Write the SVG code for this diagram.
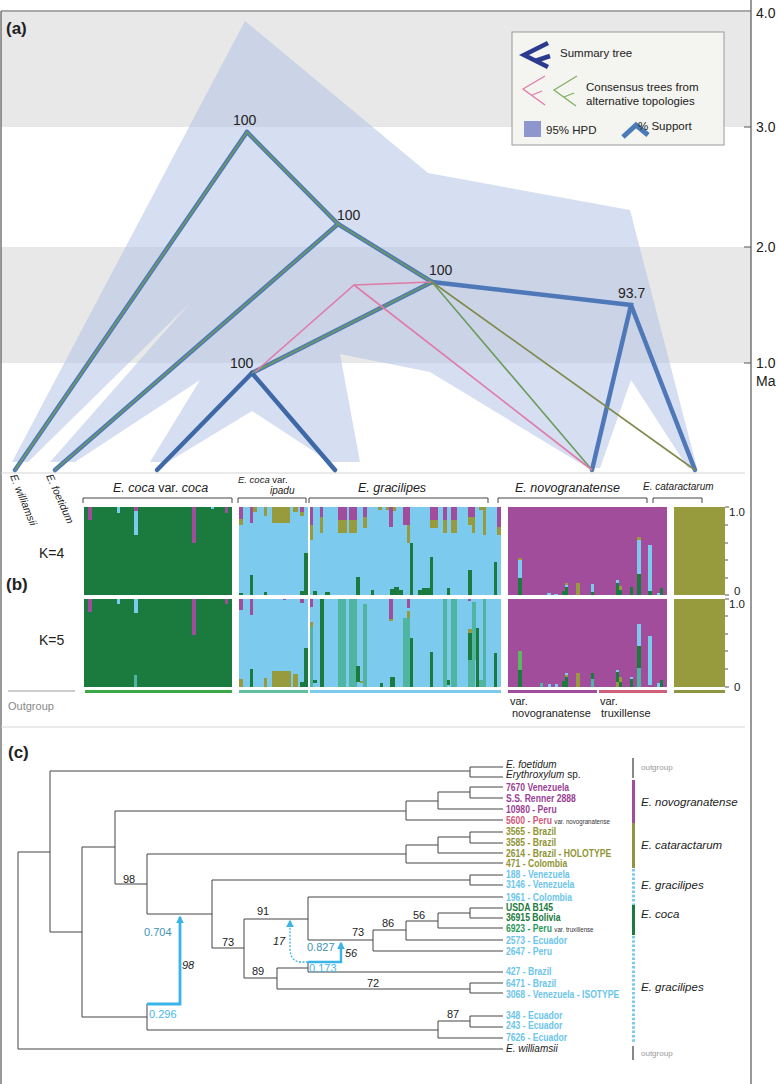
<svg xmlns="http://www.w3.org/2000/svg" width="778" height="1084" viewBox="0 0 778 1084">
<defs>
<style>
text{font-family:"Liberation Sans",Arial,sans-serif;fill:#222}
.it{font-style:italic}
.lab{font-family:"Liberation Sans",Arial,sans-serif;font-weight:bold;font-size:10.5px}
.g{fill:#1b7b3f}.c{fill:#7ccbee}.p{fill:#a14d9c}.o{fill:#989a3e}.t{fill:#4fb5a0}.lg{fill:#5cb85c}
.br{fill:none;stroke:#444;stroke-width:1}
.tr{fill:none;stroke:#444;stroke-width:1}
.sum{fill:none;stroke:#4f78b8;stroke-width:4.5;stroke-linecap:round}
.sumd{fill:none;stroke:#3e69a6;stroke-width:4.5;stroke-linecap:round}
.grn{fill:none;stroke:#6c9a5c;stroke-width:1.6}
.pnk{fill:none;stroke:#e07aa8;stroke-width:1.6}
.olv{fill:none;stroke:#7e8a4c;stroke-width:1.6}
.sup{font-size:14px}
.tk{stroke:#555;stroke-width:1}
</style>
<marker id="ah" viewBox="0 0 10 10" refX="8" refY="5" markerWidth="8" markerHeight="8" orient="auto" markerUnits="userSpaceOnUse">
<path d="M0,0 L10,5 L0,10 Z" fill="#3ab4e6"/>
</marker>
</defs>
<rect x="0" y="0" width="778" height="1084" fill="#fff"/>

<!-- panel a background -->
<g id="panel-a-bg">
<rect x="1" y="12" width="750" height="115" fill="#e8e8e8"/>
<rect x="1" y="247" width="750" height="116" fill="#e8e8e8"/>
<path d="M245,21 L428,173 L630,210 L697,468 L688,468 L631,380 L600,468 L588,468 L430,372 L340,354 L360,462 L330,462 L252,411 L168,462 L150,462 L200,380 L75,462 L50,462 L190,303 L28,462 L12,462 Z" fill="#aebde3" fill-opacity="0.5"/>
</g>

<!-- frame -->
<g id="frame" stroke="#555" stroke-width="1.2" fill="none">
<path d="M1,11 L751,11"/>
<path d="M1,11 L1,1084"/>
<path d="M751,0 L751,1084"/>
<path d="M1,473 L745,473" stroke="#d6d6d6"/>
<path d="M1,727 L745,727" stroke="#d6d6d6"/>
</g>

<!-- axis -->
<g id="axis">
<line class="tk" x1="744" y1="127" x2="751" y2="127"/>
<line class="tk" x1="744" y1="247" x2="751" y2="247"/>
<line class="tk" x1="744" y1="363" x2="751" y2="363"/>
<text x="756" y="18" font-size="14">4.0</text>
<text x="756" y="132" font-size="14">3.0</text>
<text x="756" y="252" font-size="14">2.0</text>
<text x="756" y="368" font-size="14">1.0</text>
<text x="756" y="386" font-size="14">Ma</text>
</g>

<text x="6" y="34" font-size="17" font-weight="bold">(a)</text>

<!-- panel a trees -->
<g id="connectors-a">
<path class="sum" d="M247,132 L15,470"/>
<path class="sum" d="M247,132 L338,224"/>
<path class="sum" d="M338,224 L55,470"/>
<path class="sum" d="M338,224 L432,282"/>
<path class="sum" d="M432,282 L252,373"/>
<path class="sum" d="M432,282 L631,305 L592,470"/>
<path class="sum" d="M631,305 L695,470"/>
<path class="sumd" d="M252,373 L157,470"/>
<path class="sumd" d="M252,373 L335,470"/>
<path class="grn" d="M15,470 L247,132 L338,224 L55,470"/>
<path class="grn" d="M338,224 L432,282 L252,373"/>
<path class="grn" d="M432,282 L592,470"/>
<path class="olv" d="M432,282 L695,470"/>
<path class="pnk" d="M255,372 L354,285 L431,282"/>
<path class="pnk" d="M354,285 L592,470"/>
</g>
<g id="support-a">
<text class="sup" x="233" y="125">100</text>
<text class="sup" x="337" y="220">100</text>
<text class="sup" x="429" y="275">100</text>
<text class="sup" x="230" y="368">100</text>
<text class="sup" x="618" y="298">93.7</text>
</g>
<g id="tips-a" font-size="10.5">
<text class="it" transform="translate(10,476) rotate(68)">E. williamsii</text>
<text class="it" transform="translate(46,476) rotate(66)">E. foetidum</text>
</g>

<!-- legend -->
<g id="legend">
<rect x="512" y="32" width="212" height="113" fill="#f4f4f0" stroke="#9a9a9a" stroke-width="1"/>
<path d="M548,43 L524,55 L548,67 M535,61 L550,56" fill="none" stroke="#2b3a8f" stroke-width="4.5"/>
<text x="560" y="57" font-size="11.5">Summary tree</text>
<path d="M545,76 L523,89 L545,105 M532,95 L542,91" fill="none" stroke="#e07aa8" stroke-width="1.3"/>
<path d="M577,76 L554,90 L576,106 M564,97 L574,93" fill="none" stroke="#7fb060" stroke-width="1.3"/>
<text x="586" y="91" font-size="11.5">Consensus trees from</text>
<text x="586" y="105" font-size="11.5">alternative topologies</text>
<rect x="524" y="121" width="17" height="16" fill="#8e96ce"/>
<text x="546" y="134" font-size="11.5">95% HPD</text>
<path d="M623,137 L636,125 L648,135" fill="none" stroke="#4a7ab8" stroke-width="5"/>
<text x="638" y="130" font-size="11.5">% Support</text>
</g>

<!-- panel b -->
<text x="6" y="590" font-size="17" font-weight="bold">(b)</text>
<g id="headers-b">
<text x="113" y="492" font-size="12.5"><tspan class="it">E. coca</tspan> var. <tspan class="it">coca</tspan></text>
<path class="br" d="M83,503 L83,498 L232,498 L232,503"/>
<text x="238" y="483" font-size="9.5"><tspan class="it">E. coca</tspan> var.</text>
<text x="270" y="494" font-size="10" class="it">ipadu</text>
<path class="br" d="M238,503 L238,498 L306,498 L306,503"/>
<text x="358" y="492" font-size="12.5" class="it">E. gracilipes</text>
<path class="br" d="M309,503 L309,498 L488,498 L488,503"/>
<text x="515" y="492" font-size="12.5" class="it">E. novogranatense</text>
<path class="br" d="M498,503 L498,498 L647,498 L647,503"/>
<text x="643" y="490" font-size="10" class="it">E. cataractarum</text>
<path class="br" d="M653,503 L653,498 L702,498 L702,503"/>
</g>
<text x="39" y="558" font-size="14">K=4</text>
<text x="39" y="645" font-size="14">K=5</text>

<g id="bars-k4">
<rect class="g" x="84" y="507" width="148" height="88"/>
<rect class="c" x="239" y="507" width="69" height="88"/>
<rect class="c" x="310" y="507" width="191" height="88"/>
<rect class="p" x="508" y="507" width="159" height="88"/>
<rect class="o" x="674" y="507" width="51" height="88"/>
<rect class="p" x="88" y="507" width="4" height="13"/>
<rect class="c" x="117" y="507" width="3" height="6"/>
<rect class="p" x="134" y="507" width="4" height="4"/><rect class="c" x="134" y="511" width="4" height="24"/>
<rect class="p" x="192" y="507" width="4" height="36"/>
<rect class="c" x="211" y="507" width="3" height="2"/>
<rect class="p" x="225" y="507" width="3" height="6"/>
<rect class="p" x="239" y="507" width="4" height="12"/><rect class="o" x="239" y="519" width="4" height="6"/>
<rect class="p" x="250" y="507" width="3" height="16"/>
<rect class="o" x="253" y="507" width="4" height="5"/>
<rect class="o" x="264" y="507" width="3" height="9"/>
<rect class="o" x="272" y="507" width="18" height="16"/>
<rect class="o" x="293" y="507" width="5" height="5"/>
<rect class="p" x="300" y="507" width="4" height="5"/><rect class="o" x="300" y="512" width="4" height="4"/>
<rect class="g" x="239" y="593" width="4" height="2"/>
<rect class="g" x="250" y="575" width="3" height="20"/>
<rect class="g" x="264" y="592" width="3" height="3"/>
<rect class="g" x="300" y="591" width="4" height="4"/>
<rect class="g" x="304" y="553" width="4" height="42"/>
<rect class="p" x="310" y="507" width="3" height="18"/><rect class="o" x="310" y="525" width="3" height="15"/>
<rect class="p" x="320" y="507" width="3" height="10"/><rect class="o" x="320" y="517" width="3" height="16"/>
<rect class="p" x="338" y="507" width="9" height="13"/><rect class="o" x="338" y="520" width="9" height="13"/>
<rect class="p" x="349" y="507" width="8" height="13"/><rect class="o" x="349" y="520" width="8" height="13"/>
<rect class="p" x="363" y="507" width="4" height="10"/><rect class="o" x="363" y="517" width="4" height="11"/>
<rect class="o" x="378" y="507" width="4" height="3"/>
<rect class="o" x="386" y="507" width="3" height="3"/>
<rect class="p" x="389" y="507" width="4" height="20"/><rect class="o" x="393" y="507" width="3" height="4"/>
<rect class="p" x="403" y="507" width="7" height="18"/><rect class="o" x="407" y="525" width="3" height="18"/>
<rect class="g" x="313" y="591" width="4" height="4"/>
<rect class="g" x="325" y="592" width="5" height="3"/>
<rect class="g" x="356" y="577" width="4" height="18"/>
<rect class="g" x="371" y="590" width="3" height="5"/>
<rect class="g" x="390" y="589" width="4" height="6"/><rect class="g" x="394" y="587" width="5" height="8"/><rect class="g" x="399" y="590" width="4" height="5"/>
<rect class="g" x="410" y="543" width="3" height="52"/>
<rect class="g" x="418" y="590" width="4" height="5"/><rect class="g" x="422" y="588" width="8" height="7"/>
<rect class="p" x="430" y="507" width="8" height="13"/><rect class="o" x="430" y="520" width="8" height="8"/>
<rect class="p" x="443" y="507" width="4" height="13"/><rect class="o" x="443" y="520" width="4" height="13"/>
<rect class="p" x="451" y="507" width="6" height="13"/><rect class="o" x="451" y="520" width="6" height="13"/>
<rect class="p" x="468" y="507" width="7" height="10"/><rect class="o" x="468" y="517" width="7" height="8"/><rect class="o" x="472" y="525" width="3" height="8"/>
<rect class="o" x="479" y="507" width="7" height="3"/><rect class="o" x="483" y="510" width="3" height="25"/>
<rect class="p" x="497" y="507" width="4" height="20"/><rect class="o" x="497" y="527" width="4" height="8"/>
<rect class="g" x="430" y="557" width="3" height="38"/>
<rect class="g" x="447" y="588" width="3" height="7"/>
<rect class="g" x="468" y="570" width="4" height="25"/>
<rect class="g" x="494" y="562" width="3" height="33"/>
<rect class="o" x="518" y="558" width="4" height="2"/><rect class="c" x="518" y="560" width="4" height="18"/><rect class="g" x="518" y="578" width="4" height="17"/>
<rect class="c" x="547" y="593" width="4" height="2"/><rect class="c" x="554" y="594" width="4" height="1"/>
<rect class="g" x="562" y="591" width="4" height="4"/>
<rect class="o" x="565" y="583" width="3" height="2"/><rect class="c" x="565" y="585" width="3" height="2"/><rect class="g" x="565" y="587" width="3" height="8"/>
<rect class="o" x="576" y="583" width="4" height="12"/>
<rect class="c" x="591" y="584" width="3" height="8"/><rect class="g" x="591" y="592" width="3" height="3"/>
<rect class="c" x="616" y="580" width="3" height="3"/><rect class="g" x="616" y="583" width="3" height="12"/>
<rect class="o" x="619" y="586" width="3" height="4"/><rect class="g" x="619" y="590" width="3" height="5"/>
<rect class="g" x="630" y="587" width="3" height="8"/>
<rect class="o" x="637" y="537" width="4" height="3"/><rect class="c" x="637" y="540" width="4" height="34"/><rect class="g" x="637" y="574" width="4" height="21"/>
<rect class="c" x="648" y="545" width="4" height="46"/><rect class="g" x="648" y="591" width="4" height="4"/>
<rect class="c" x="657" y="593" width="3" height="2"/><rect class="g" x="660" y="588" width="3" height="7"/>
</g>

<g id="bars-k5">
<rect class="g" x="84" y="599" width="148" height="88"/>
<rect class="c" x="239" y="599" width="69" height="88"/>
<rect class="c" x="310" y="599" width="191" height="88"/>
<rect class="p" x="508" y="599" width="159" height="88"/>
<rect class="o" x="674" y="599" width="51" height="88"/>
<rect class="p" x="88" y="599" width="4" height="13"/>
<rect class="c" x="117" y="599" width="3" height="5"/>
<rect class="c" x="134" y="599" width="4" height="14"/>
<rect class="p" x="192" y="599" width="4" height="36"/>
<rect class="p" x="225" y="599" width="3" height="5"/>
<rect class="t" x="134" y="675" width="3" height="12"/>
<rect class="p" x="239" y="599" width="4" height="11"/><rect class="p" x="250" y="599" width="3" height="16"/><rect class="p" x="283" y="599" width="3" height="1"/><rect class="p" x="300" y="599" width="4" height="4"/>
<rect class="o" x="239" y="679" width="4" height="8"/>
<rect class="g" x="250" y="669" width="3" height="18"/>
<rect class="o" x="264" y="678" width="3" height="9"/>
<rect class="o" x="272" y="671" width="19" height="16"/>
<rect class="o" x="293" y="674" width="5" height="13"/>
<rect class="g" x="300" y="682" width="4" height="5"/>
<rect class="g" x="304" y="648" width="4" height="39"/>
<rect class="p" x="310" y="599" width="3" height="8"/><rect class="o" x="310" y="622" width="3" height="5"/><rect class="t" x="310" y="627" width="3" height="60"/>
<rect class="g" x="320" y="599" width="4" height="88"/>
<rect class="t" x="338" y="599" width="8" height="88"/>
<rect class="t" x="349" y="599" width="8" height="88"/><rect class="g" x="356" y="666" width="4" height="16"/>
<rect class="t" x="363" y="604" width="4" height="83"/>
<rect class="o" x="360" y="681" width="3" height="2"/>
<rect class="p" x="389" y="599" width="4" height="20"/><rect class="o" x="389" y="619" width="4" height="2"/>
<rect class="g" x="390" y="677" width="5" height="10"/>
<rect class="p" x="407" y="599" width="3" height="9"/><rect class="o" x="407" y="611" width="3" height="7"/><rect class="t" x="403" y="618" width="7" height="69"/>
<rect class="g" x="410" y="638" width="3" height="49"/>
<rect class="g" x="313" y="680" width="4" height="3"/>
<rect class="g" x="380" y="683" width="3" height="4"/>
<rect class="g" x="430" y="652" width="3" height="35"/>
<rect class="t" x="443" y="599" width="4" height="88"/>
<rect class="t" x="451" y="599" width="6" height="88"/>
<rect class="g" x="447" y="680" width="3" height="5"/>
<rect class="t" x="472" y="602" width="4" height="58"/><rect class="p" x="468" y="599" width="3" height="2"/><rect class="o" x="468" y="629" width="4" height="4"/><rect class="g" x="468" y="633" width="4" height="27"/><rect class="t" x="468" y="660" width="7" height="27"/>
<rect class="g" x="476" y="628" width="3" height="59"/>
<rect class="t" x="479" y="680" width="7" height="7"/><rect class="t" x="483" y="599" width="3" height="88"/>
<rect class="g" x="494" y="653" width="3" height="34"/>
<rect class="lg" x="518" y="651" width="4" height="19"/><rect class="g" x="518" y="670" width="4" height="17"/>
<rect class="t" x="540" y="683" width="3" height="4"/><rect class="c" x="548" y="684" width="3" height="3"/><rect class="c" x="555" y="684" width="3" height="3"/>
<rect class="g" x="562" y="681" width="4" height="6"/>
<rect class="c" x="565" y="673" width="3" height="2"/><rect class="o" x="565" y="675" width="3" height="2"/><rect class="g" x="565" y="677" width="3" height="10"/>
<rect class="o" x="576" y="673" width="4" height="14"/>
<rect class="g" x="591" y="673" width="3" height="6"/><rect class="t" x="591" y="679" width="3" height="8"/>
<rect class="c" x="616" y="670" width="3" height="2"/><rect class="g" x="616" y="672" width="3" height="10"/><rect class="o" x="616" y="682" width="3" height="5"/>
<rect class="o" x="619" y="677" width="3" height="5"/><rect class="g" x="619" y="682" width="3" height="5"/>
<rect class="c" x="630" y="677" width="3" height="2"/><rect class="g" x="630" y="679" width="3" height="8"/>
<rect class="c" x="637" y="624" width="4" height="22"/><rect class="g" x="637" y="646" width="4" height="22"/><rect class="t" x="637" y="668" width="4" height="19"/>
<rect class="c" x="648" y="636" width="4" height="49"/>
<rect class="c" x="657" y="683" width="3" height="4"/><rect class="g" x="660" y="680" width="3" height="7"/>
</g>

<g id="scale-b">
<path class="tk" d="M725,507 L729,507 M725,525 L728,525 M725,543 L728,543 M725,560 L728,560 M725,578 L728,578 M725,595 L729,595"/>
<path class="tk" d="M725,599 L729,599 M725,616 L728,616 M725,634 L728,634 M725,651 L728,651 M725,669 L728,669 M725,687 L729,687"/>
<text x="729" y="516" font-size="11.5">1.0</text>
<text x="734" y="595" font-size="11.5">0</text>
<text x="729" y="608" font-size="11.5">1.0</text>
<text x="734" y="691" font-size="11.5">0</text>
</g>

<g id="groups-b">
<rect x="85" y="690" width="147" height="3" fill="#3aa846"/>
<rect x="239" y="690" width="69" height="3" fill="#5fbfa0"/>
<rect x="310" y="690" width="191" height="3" fill="#7ccbee"/>
<rect x="508" y="690" width="89" height="3" fill="#a14d9c"/>
<rect x="599" y="690" width="68" height="3" fill="#d0607a"/>
<rect x="674" y="690" width="51" height="3" fill="#8e9440"/>
<line x1="8" y1="691" x2="75" y2="691" stroke="#999" stroke-width="1"/>
<text x="8" y="710" font-size="11" style="fill:#888">Outgroup</text>
<text x="510" y="705" font-size="11">var.</text>
<text x="512" y="717" font-size="11">novogranatense</text>
<text x="600" y="705" font-size="11">var.</text>
<text x="601" y="717" font-size="11">truxillense</text>
</g>

<!-- panel c -->
<text x="8" y="758" font-size="17" font-weight="bold">(c)</text>
<g id="connectors-c">
<path class="tr" d="M18,852 L18,1049 L503,1049 M18,852 L50,852"/>
<path class="tr" d="M50,771 L50,932 M50,771 L470,771 M50,932 L82,932"/>
<path class="tr" d="M470,767 L470,777 M470,767 L503,767 M470,777 L503,777"/>
<path class="tr" d="M82,847 L82,1017 M82,847 L115,847 M82,1017 L147,1017"/>
<path class="tr" d="M115,811 L115,884 M115,811 L406,811 M115,884 L147,884"/>
<path class="tr" d="M406,801 L406,820 L503,820 M406,801 L438,801 M438,792 L438,809 L503,809 M438,792 L470,792 M470,787 L470,798 M470,787 L503,787 M470,798 L503,798"/>
<path class="tr" d="M147,854 L147,914 M147,854 L406,854 M147,914 L212,914"/>
<path class="tr" d="M406,845 L406,863 L503,863 M406,845 L438,845 M438,837 L438,853 L503,853 M438,837 L470,837 M470,832 L470,843 M470,832 L503,832 M470,843 L503,843"/>
<path class="tr" d="M212,880 L212,948 M212,880 L470,880 M470,875 L470,885 M470,875 L503,875 M470,885 L503,885 M212,948 L244,948"/>
<path class="tr" d="M244,919 L244,978 M244,919 L308,919 M244,978 L277,978"/>
<path class="tr" d="M308,897 L308,940 M308,897 L503,897 M308,940 L373,940"/>
<path class="tr" d="M373,930 L373,951 L503,951 M373,930 L406,930 M406,921 L406,940 L503,940 M406,921 L438,921 M438,913 L438,928 L503,928 M438,913 L470,913 M470,908 L470,918 M470,908 L503,908 M470,918 L503,918"/>
<path class="tr" d="M277,968 L277,989 M277,968 L308,968 M308,962 L308,972 L503,972 M277,989 L470,989 M470,983 L470,993 M470,983 L503,983 M470,993 L503,993"/>
<path class="tr" d="M147,1004 L147,1030 M147,1030 L438,1030 M438,1021 L438,1038 L503,1038 M438,1021 L470,1021 M470,1016 L470,1027 M470,1016 L503,1016 M470,1027 L503,1027"/>
<path d="M147,1004 L180,1004 L180,917" fill="none" stroke="#3ab4e6" stroke-width="2.8" marker-end="url(#ah)"/>
<path d="M308,962 L341,962 L341,943" fill="none" stroke="#3ab4e6" stroke-width="2.4" marker-end="url(#ah)"/>
<path d="M308,962 L300,962 Q290,961 290,948 L290,921" fill="none" stroke="#3ab4e6" stroke-width="1.3" stroke-dasharray="2 1.5" marker-end="url(#ah)"/>
</g>
<g id="support-c" font-size="11">
<text x="123" y="883">98</text>
<text x="222" y="946">73</text>
<text x="257" y="915">91</text>
<text x="352" y="936">73</text>
<text x="382" y="927">86</text>
<text x="413" y="919">56</text>
<text x="252" y="975">89</text>
<text x="367" y="987">72</text>
<text x="447" y="1018">87</text>
<text x="144" y="936" style="fill:#3d94b5">0.704</text>
<text x="182" y="969" class="it">98</text>
<text x="149" y="1018" style="fill:#45b8e8">0.296</text>
<text x="273" y="945" class="it">17</text>
<text x="307" y="951" style="fill:#3d94b5">0.827</text>
<text x="345" y="957" class="it">56</text>
<text x="309" y="972" style="fill:#45b8e8">0.173</text>
</g>
<g id="tips-c">
<text x="506" y="768" font-size="10" class="it">E. foetidum</text>
<text x="506" y="778" font-size="10"><tspan class="it">Erythroxylum</tspan> sp.</text>
<text x="506" y="1052" font-size="10" class="it">E. williamsii</text>
<g transform="translate(506,0) scale(0.82,1)">
<text x="0" y="791" class="lab" style="fill:#9b3f95">7670 Venezuela</text>
<text x="0" y="802" class="lab" style="fill:#9b3f95">S.S. Renner 2888</text>
<text x="0" y="813" class="lab" style="fill:#9b3f95">10980 - Peru</text>
<text x="0" y="824" class="lab" style="fill:#d4587a">5600 - Peru <tspan font-weight="normal" font-size="7.5" style="fill:#333">var. novogranatense</tspan></text>
<text x="0" y="835" class="lab" style="fill:#8f9535">3565 - Brazil</text>
<text x="0" y="846" class="lab" style="fill:#8f9535">3585 - Brazil</text>
<text x="0" y="857" class="lab" style="fill:#8f9535">2614 - Brazil - HOLOTYPE</text>
<text x="0" y="867" class="lab" style="fill:#8f9535">471 - Colombia</text>
<text x="0" y="878" class="lab" style="fill:#6cc5ea">188 - Venezuela</text>
<text x="0" y="888" class="lab" style="fill:#6cc5ea">3146 - Venezuela</text>
<text x="0" y="901" class="lab" style="fill:#6cc5ea">1961 - Colombia</text>
<text x="0" y="911" class="lab" style="fill:#1a7a3e">USDA B145</text>
<text x="0" y="921" class="lab" style="fill:#1a7a3e">36915 Bolivia</text>
<text x="0" y="932" class="lab" style="fill:#2a9a5a">6923 - Peru <tspan font-weight="normal" font-size="7.5" style="fill:#333">var. truxillense</tspan></text>
<text x="0" y="944" class="lab" style="fill:#6cc5ea">2573 - Ecuador</text>
<text x="0" y="955" class="lab" style="fill:#6cc5ea">2647 - Peru</text>
<text x="0" y="975" class="lab" style="fill:#6cc5ea">427 - Brazil</text>
<text x="0" y="987" class="lab" style="fill:#6cc5ea">6471 - Brazil</text>
<text x="0" y="998" class="lab" style="fill:#6cc5ea">3068 - Venezuela - ISOTYPE</text>
<text x="0" y="1019" class="lab" style="fill:#6cc5ea">348 - Ecuador</text>
<text x="0" y="1029" class="lab" style="fill:#6cc5ea">243 - Ecuador</text>
<text x="0" y="1041" class="lab" style="fill:#6cc5ea">7626 - Ecuador</text>
</g>
</g>
<g id="clades-c">
<rect x="632" y="758" width="2" height="20" fill="#888"/>
<rect x="632" y="780" width="3" height="43" fill="#a14d9c"/>
<rect x="632" y="823" width="3" height="45" fill="#8e9440"/>
<line x1="633.5" y1="869" x2="633.5" y2="905" stroke="#7ccbee" stroke-width="3" stroke-dasharray="2.5 1.8"/>
<rect x="632" y="905" width="3" height="30" fill="#1b7b3f"/>
<line x1="633.5" y1="936" x2="633.5" y2="1043" stroke="#7ccbee" stroke-width="3" stroke-dasharray="2.5 1.8"/>
<rect x="632" y="1046" width="2" height="14" fill="#888"/>
<text x="641" y="770" font-size="8" style="fill:#999">outgroup</text>
<text x="641" y="806" font-size="11.5" class="it">E. novogranatense</text>
<text x="641" y="849" font-size="11.5" class="it">E. cataractarum</text>
<text x="641" y="889" font-size="11.5" class="it">E. gracilipes</text>
<text x="641" y="918" font-size="11.5" class="it">E. coca</text>
<text x="641" y="991" font-size="11.5" class="it">E. gracilipes</text>
<text x="641" y="1056" font-size="8" style="fill:#999">outgroup</text>
</g>
</svg>
